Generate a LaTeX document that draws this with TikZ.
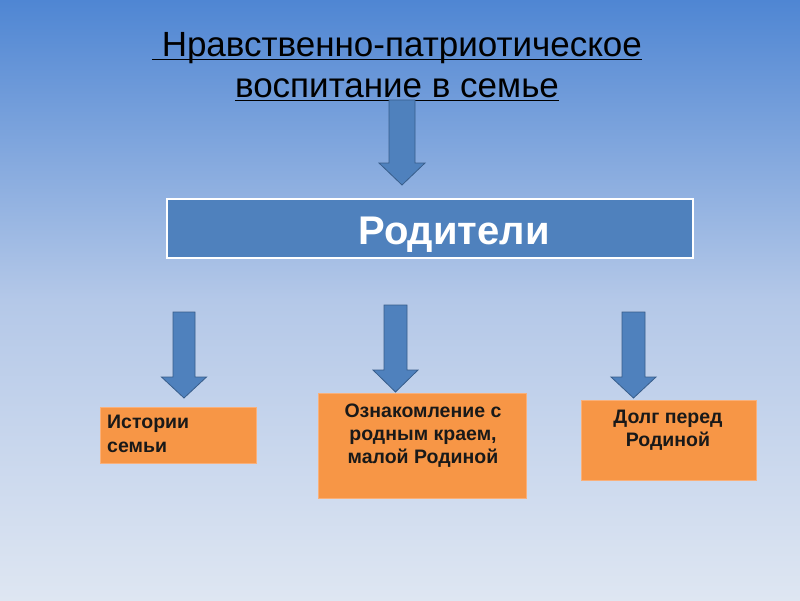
\documentclass[tikz,border=0pt]{standalone}
\usepackage{fontspec}
\setmainfont{Liberation Sans}
\definecolor{bgtop}{HTML}{4F86D3}
\definecolor{bgmid}{HTML}{B4C8E8}
\definecolor{bgbot}{HTML}{DEE6F2}
\definecolor{accblue}{HTML}{4F81BD}
\definecolor{accline}{HTML}{385D8A}
\definecolor{accorange}{HTML}{F79646}
\definecolor{orangeline}{HTML}{F9B07A}
\tikzset{
  bigarrow/.style={fill=accblue,draw=accline,line width=0.8pt,line join=miter},
  orangebox/.style={fill=accorange,draw=orangeline,line width=0.6pt},
  boxtext/.style={font=\fontsize{19.5}{23}\selectfont\bfseries,text=black!90,inner sep=0pt,anchor=base},
  titletext/.style={inner sep=0pt,anchor=base,font=\fontsize{35}{42}\selectfont},
}
% #1 centre x, #2 shaft top, #3 head top, #4 tip, #5 shaft half width, #6 head half width
\newcommand\myDownArrow[6]{%
  \draw[bigarrow] (#1-#5,#2) -- (#1+#5,#2) -- (#1+#5,#3) -- (#1+#6,#3) -- (#1,#4)
    -- (#1-#6,#3) -- (#1-#5,#3) -- cycle;}
\begin{document}
\begin{tikzpicture}[x=1pt,y=-1pt]
\useasboundingbox (0,0) rectangle (800,600);
\shade[top color=bgtop,bottom color=bgmid] (0,0) rectangle (800,300);
\shade[top color=bgmid,bottom color=bgbot] (0,300) rectangle (800,600);

% title
\node[titletext] (t1) at (397,56) {\ Нравственно-патриотическое};
\node[titletext] (t2) at (397,97) {воспитание в семье};
\draw[line width=1.6pt,black] ([yshift=-3.5pt]t1.base west) -- ([yshift=-3.5pt]t1.base east);
\draw[line width=1.6pt,black] ([yshift=-3.5pt]t2.base west) -- ([yshift=-3.5pt]t2.base east);

% arrow 1
\myDownArrow{402}{100}{163}{185}{13}{23}

% parents box
\draw[fill=accblue,draw=white,line width=2pt] (167,199) rectangle (693,258);
\node[inner sep=0pt,anchor=base,text=white,font=\fontsize{40}{48}\selectfont\bfseries] (par) at (454,244) {Родители};

% small arrows
\myDownArrow{184}{312}{377}{398}{11}{22.5}
\myDownArrow{395.5}{305}{370}{392}{11.5}{22.5}
\myDownArrow{633.5}{312}{377}{398}{11.5}{22.5}

% boxes
\draw[orangebox] (100,407) rectangle (256,463);
\node[boxtext,anchor=base west] (l1) at (107,428) {Истории};
\node[boxtext,anchor=base west] (l2) at (107,452) {семьи};

\draw[orangebox] (318,393) rectangle (526,498);
\node[boxtext] (m1) at (423,417) {Ознакомление с};
\node[boxtext] (m2) at (423,440) {родным краем,};
\node[boxtext] (m3) at (423,463) {малой Родиной};

\draw[orangebox] (581,400) rectangle (756,480);
\node[boxtext] (r1) at (668,423) {Долг перед};
\node[boxtext] (r2) at (668,446) {Родиной};
\end{tikzpicture}
\end{document}
